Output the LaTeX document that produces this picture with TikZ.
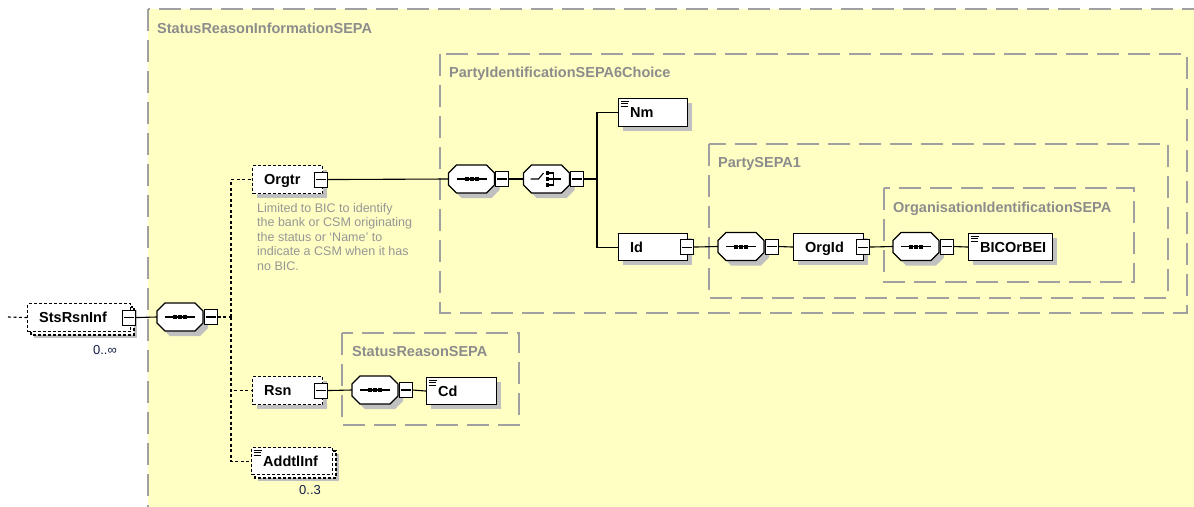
\documentclass[tikz,border=0pt]{standalone}
\usepackage{fontspec}
\setmainfont{Liberation Sans}
\usetikzlibrary{calc}
\definecolor{ybg}{RGB}{255,255,196}
\definecolor{cframe}{RGB}{160,160,160}
\definecolor{clabel}{RGB}{140,140,140}
\definecolor{cshadow}{RGB}{192,192,192}
\definecolor{cdesc}{RGB}{150,150,150}
\definecolor{cmult}{RGB}{20,30,70}
\tikzset{
 frame/.style={draw=cframe, line width=1.2pt, dash pattern=on 22pt off 9pt, fill=ybg},
 flabel/.style={anchor=base west, text=clabel, font=\fontsize{14.5}{16}\selectfont\bfseries, inner sep=0},
 ebox/.style={draw=black, line width=1.1pt, fill=white, anchor=north west, inner sep=0},
 optbox/.style={ebox, dash pattern=on 3pt off 2pt},
 etext/.style={anchor=base west, font=\fontsize{14.5}{16}\selectfont\bfseries, inner sep=0},
 shad/.style={fill=cshadow},
 conn/.style={draw=black, line width=1.1pt},
 optconn/.style={draw=black, line width=1.1pt, dash pattern=on 3pt off 2.5pt},
 minusbox/.style={draw=black, line width=1pt, fill=white, minimum width=13pt, minimum height=15pt, inner sep=0},
 mult/.style={font=\fontsize{13}{15}\selectfont, text=cmult, inner sep=0},
}
\newcommand\shbox[5]{\fill[shad] (#1+#5,#2+#5) rectangle (#3+#5,#4+#5);}
\newcommand\backbox[4]{\draw[line width=1.1pt, dash pattern=on 3pt off 2pt, fill=white] (#1+4,#2+4) rectangle (#3+4,#4+4);}
\newcommand\elem[7]{\node[#6, minimum width={#4-#2}, minimum height={#5-#3}] (#1) at (#2,#3) {};
 \node[etext] (#1-t) at ($(#1.west)+(12,5)$) {#7};}
\newcommand\mbx[2]{\node[minusbox] (#1-m) at ($(#1.east)+(#2,0)$) {};
 \draw[line width=1.1pt] ($(#1-m.west)+(2,0)$) -- ($(#1-m.east)+(-2,0)$);}
\newcommand\icon[1]{\draw[line width=0.8pt] ($(#1.north west)+(2.5,3)$) -- ++(8,0) ($(#1.north west)+(2.5,5.5)$) -- ++(7,0) ($(#1.north west)+(2.5,8)$) -- ++(7,0);}
\newcommand\octpath[3]{\path[#1] (#2-15,#3-14) -- (#2+15,#3-14) -- (#2+23,#3-6) -- (#2+23,#3+6) -- (#2+15,#3+14) -- (#2-15,#3+14) -- (#2-23,#3+6) -- (#2-23,#3-6) -- cycle;}
\newcommand\seqsym[3]{\octpath{shad}{#2+5}{#3+5}
 \node[inner sep=0, minimum width=46pt, minimum height=28pt] (#1) at (#2,#3) {};
 \octpath{draw=black, line width=1.1pt, fill=white}{#2}{#3}
 \draw[line width=1.1pt] (#2-15,#3) -- (#2+15,#3);
 \foreach \d in {-5,0,5} {\fill (#2+\d-2,#3-2) rectangle ++(4,4);}
 \mbx{#1}{7.5}}
\newcommand\choicesym[3]{\octpath{shad}{#2+5}{#3+5}
 \node[inner sep=0, minimum width=46pt, minimum height=28pt] (#1) at (#2,#3) {};
 \octpath{draw=black, line width=1.1pt, fill=white}{#2}{#3}
 \draw[line width=1.1pt] (#2-16,#3) -- (#2-8,#3) -- (#2-3,#3-6);
 \foreach \d in {-6,0,6} {\fill (#2-1,#3+\d-1.8) rectangle ++(3.6,3.6);}
 \draw[line width=1.1pt] (#2+2,#3-6) -- (#2+7,#3-6) -- (#2+7,#3+6) -- (#2+2,#3+6) (#2+2,#3) -- (#2+14,#3);
 \mbx{#1}{7.5}}
\begin{document}
\begin{tikzpicture}[x=1pt,y=-1pt]
\useasboundingbox (0,0) rectangle (1194,506);
\clip (0,0) rectangle (1194,506);
\fill[white] (0,0) rectangle (1194,506);
% containers
\draw[frame] (148,9) rectangle (1230,540);
\node[flabel] (l-sri) at (157,33) {StatusReasonInformationSEPA};
\draw[frame] (440,54) rectangle (1187,313);
\node[flabel] (l-pis) at (449,77) {PartyIdentificationSEPA6Choice};
\draw[frame] (709,144) rectangle (1168,298);
\node[flabel] (l-ps) at (718,167) {PartySEPA1};
\draw[frame] (884,188) rectangle (1134,282);
\node[flabel] (l-ois) at (893,212) {OrganisationIdentificationSEPA};
\draw[frame] (342,333) rectangle (519,425);
\node[flabel] (l-srs) at (352,356) {StatusReasonSEPA};
% StsRsnInf (multiple, optional)
\shbox{27}{303}{130}{331}{7}
\backbox{27}{303}{130}{331}
\elem{sts}{27}{303}{130}{331}{optbox}{StsRsnInf}
\mbx{sts}{-2}
\node[mult] (sts-mult) at (105,350) {0..∞};
% sequence 1
\seqsym{seq1}{180}{317}
% Orgtr
\shbox{252}{165}{322}{193}{5}
\elem{orgtr}{252}{165}{322}{193}{optbox}{Orgtr}
\mbx{orgtr}{-2}
\node[anchor=north west, text=cdesc, font=\fontsize{12.5}{14.5}\selectfont, align=left, inner sep=0] (desc) at (257,203)
 {Limited to BIC to identify\\the bank or CSM originating\\the status or `Name' to\\indicate a CSM when it has\\no BIC.};
% sequence 2 and choice
\seqsym{seq2}{471.5}{179}
\choicesym{choice}{546.5}{179}
% Nm
\shbox{618}{98}{687}{126}{5}
\elem{nm}{618}{98}{687}{126}{ebox}{Nm}
\icon{nm}
% Id
\shbox{618}{233}{687}{260}{5}
\elem{id}{618}{233}{687}{260}{ebox}{Id}
\mbx{id}{-1}
\seqsym{seq3}{741}{246.5}
% OrgId
\shbox{793}{233}{863}{260}{5}
\elem{orgid}{793}{233}{863}{260}{ebox}{OrgId}
\mbx{orgid}{-1}
\seqsym{seq4}{916}{246.5}
% BICOrBEI
\shbox{968}{233}{1052}{260}{5}
\elem{bic}{968}{233}{1052}{260}{ebox}{BICOrBEI}
\icon{bic}
% Rsn
\shbox{252}{376}{322}{404}{5}
\elem{rsn}{252}{376}{322}{404}{optbox}{Rsn}
\mbx{rsn}{-2}
\seqsym{seq5}{375}{390}
\shbox{426}{377}{496}{404}{5}
\elem{cd}{426}{377}{496}{404}{ebox}{Cd}
\icon{cd}
% AddtlInf (multiple, optional)
\shbox{251}{447}{332}{474}{7}
\backbox{251}{447}{332}{474}
\elem{addtl}{251}{447}{332}{474}{optbox}{AddtlInf}
\icon{addtl}
\node[mult] (addtl-mult) at (310,490) {0..3};
% connectors
\coordinate (in) at (8,317);
\draw[optconn] (in) -- (sts.west);
\draw[conn] (sts-m.east) -- (seq1.west);
\coordinate (tr) at (231,317);
\draw[optconn] (seq1-m.east) -- (tr);
\draw[optconn] (tr) |- (orgtr.west);
\draw[optconn] (tr) |- (rsn.west);
\draw[optconn] (tr) |- (addtl.west);
\draw[conn] (orgtr-m.east) -- (seq2.west);
\draw[conn] (seq2-m.east) -- (choice.west);
\coordinate (ch) at (597,179);
\draw[conn] (choice-m.east) -- (ch);
\draw[conn] (ch) |- (nm.west);
\draw[conn] (ch) |- (id.west);
\draw[conn] (id-m.east) -- (seq3.west);
\draw[conn] (seq3-m.east) -- (orgid.west);
\draw[conn] (orgid-m.east) -- (seq4.west);
\draw[conn] (seq4-m.east) -- (bic.west);
\draw[conn] (rsn-m.east) -- (seq5.west);
\draw[conn] (seq5-m.east) -- (cd.west);
\end{tikzpicture}
\end{document}
